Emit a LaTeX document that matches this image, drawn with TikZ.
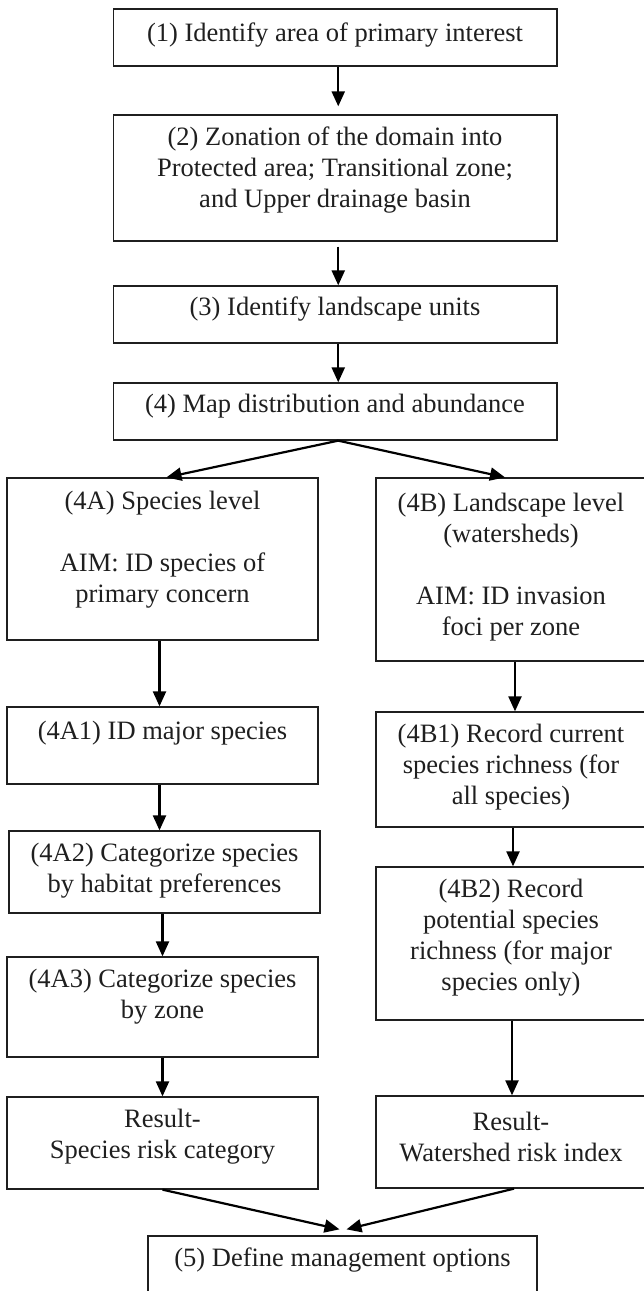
\documentclass[tikz,border=0pt]{standalone}
\usepackage{fontspec}
\setmainfont{Liberation Serif}
\usetikzlibrary{arrows.meta}
\begin{document}
\begin{tikzpicture}[x=1pt,y=-1pt,
  box/.style={draw=black!88, line width=1.3pt, rectangle, inner sep=0pt},
  txt/.style={align=center, font=\fontsize{26.5}{31}\selectfont, text=black!88, inner sep=0pt},
  arr/.style={draw=black, line width=2.2pt, -{Triangle[length=15pt,width=13pt]}}]
\useasboundingbox[fill=white] (0,0) rectangle (643,1291);
% boxes
\node[box, minimum width=443.5pt, minimum height=57pt]  (b1) at (335.25,37.5) {};
\node[box, minimum width=443.5pt, minimum height=126pt] (b2) at (335.25,178) {};
\node[box, minimum width=443.5pt, minimum height=57pt]  (b3) at (335.25,314.5) {};
\node[box, minimum width=443.5pt, minimum height=57pt]  (b4) at (335.25,411.5) {};
\node[box, minimum width=311pt, minimum height=162pt] (a)  at (162.5,559) {};
\node[box, minimum width=311pt, minimum height=77pt]  (a1) at (162.5,745.5) {};
\node[box, minimum width=311pt, minimum height=82pt]  (a2) at (164.5,872) {};
\node[box, minimum width=311pt, minimum height=100pt] (a3) at (162.5,1007) {};
\node[box, minimum width=311pt, minimum height=92pt]  (ra) at (162.5,1143) {};
\node[box, minimum width=270pt, minimum height=183pt] (b)  at (511,569.5) {};
\node[box, minimum width=270pt, minimum height=115pt] (bb1) at (511,769.5) {};
\node[box, minimum width=270pt, minimum height=153pt] (bb2) at (511,943.5) {};
\node[box, minimum width=270pt, minimum height=92pt]  (rb) at (511,1142) {};
\node[box, minimum width=389pt, minimum height=64pt]  (c5) at (342.5,1268) {};
% texts
\node[txt] (t1) at (335,35) {(1) Identify area of primary interest};
\node[txt] (t2) at (335,170) {(2) Zonation of the domain into\\Protected area; Transitional zone;\\and Upper drainage basin};
\node[txt] (t3) at (335,309) {(3) Identify landscape units};
\node[txt] (t4) at (335,406) {(4) Map distribution and abundance};
\node[txt] (ta) at (162.5,550) {(4A) Species level\\[31pt]AIM: ID species of\\primary concern};
\node[txt] (ta1) at (162.5,733) {(4A1) ID major species};
\node[txt] (ta2) at (164.5,871) {(4A2) Categorize species\\by habitat preferences};
\node[txt] (ta3) at (162.5,997) {(4A3) Categorize species\\by zone};
\node[txt] (tra) at (162.5,1137) {Result-\\Species risk category};
\node[txt] (tb) at (511,567) {(4B) Landscape level\\(watersheds)\\[31pt]AIM: ID invasion\\foci per zone};
\node[txt] (tb1) at (511,767) {(4B1) Record current\\species richness (for\\all species)};
\node[txt] (tb2) at (511,938) {(4B2) Record\\potential species\\richness (for major\\species only)};
\node[txt] (trb) at (511,1137) {Result-\\Watershed risk index};
\node[txt] (t5) at (342.5,1260) {(5) Define management options};
% arrows
\draw[arr, shorten >=8pt] ([xshift=3pt]b1.south) -- ([xshift=3pt]b2.north);
\draw[arr, shorten <=5pt] ([xshift=3pt]b2.south) -- ([xshift=3pt]b3.north);
\draw[arr] ([xshift=3pt]b3.south) -- ([xshift=3pt]b4.north);
\draw[arr] ([xshift=3pt]b4.south) -- ([xshift=4pt]a.north);
\draw[arr] ([xshift=3pt]b4.south) -- ([xshift=-6pt]b.north);
\draw[arr] ([xshift=-3pt]a.south) -- ([xshift=-3pt]a1.north);
\draw[arr] ([xshift=-3pt]a1.south) -- ([xshift=-3pt]a1.south |- a2.north);
\draw[arr] (a2.south -| a3.north) -- (a3.north);
\draw[arr] (a3.south) -- (ra.north);
\draw[arr] ([xshift=4pt]b.south) -- ([xshift=4pt]bb1.north);
\draw[arr] ([xshift=2pt]bb1.south) -- ([xshift=2pt]bb2.north);
\draw[arr] ([xshift=1pt]bb2.south) -- ([xshift=1pt]rb.north);
\draw[arr] (ra.south) -- ([xshift=-3pt,yshift=6pt]c5.north);
\draw[arr] ([xshift=3pt]rb.south) -- ([xshift=4pt,yshift=6pt]c5.north);
\end{tikzpicture}
\end{document}
